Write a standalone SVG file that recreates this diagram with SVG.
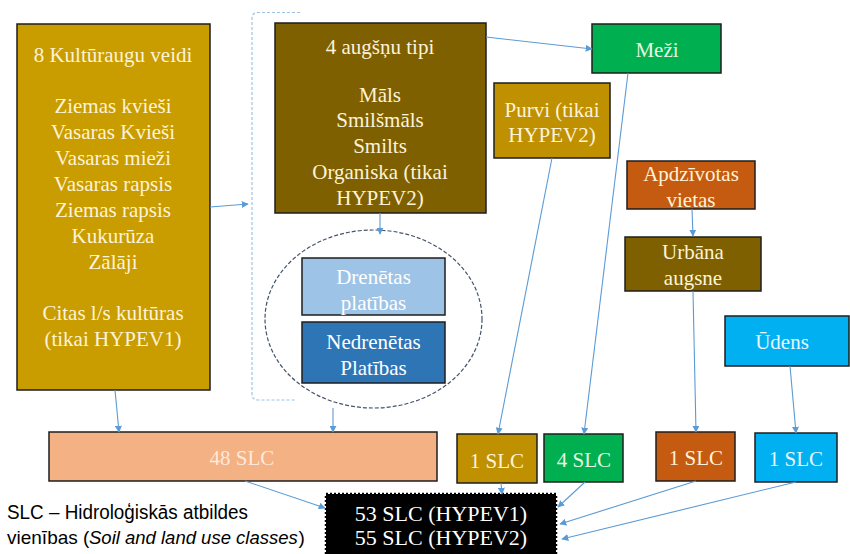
<svg xmlns="http://www.w3.org/2000/svg" width="850" height="554" viewBox="0 0 850 554">
<defs>
<marker id="ah" viewBox="0 0 10 10" refX="9" refY="5" markerWidth="7" markerHeight="7" orient="auto" markerUnits="userSpaceOnUse">
<path d="M0,0 L10,5 L0,10 z" fill="#5b9bd5"/>
</marker>
</defs>
<style>
.box{stroke:#1e1e1e;stroke-width:1.5}
.t{font-family:'Liberation Serif','DejaVu Serif',serif;font-size:21px;text-anchor:middle;fill:#fdf3d8}
.w{fill:#ffffff}
.c{stroke:#5b9bd5;stroke-width:1.1;fill:none;marker-end:url(#ah)}
.leg{font-family:'Liberation Sans',Arial,sans-serif;font-size:19px;fill:#000}
</style>
<rect width="850" height="554" fill="#ffffff"/>

<g id="bracket">
<path d="M300,12.5 H258 Q252,12.5 252,18.5 V394 Q252,400 258,400 H296" fill="none" stroke="#9dc3e6" stroke-width="1.2" stroke-dasharray="3 2"/>
</g>

<g id="crops">
<rect class="box" x="17" y="24" width="193" height="366" fill="#c99c00"/>
<text class="t" x="113" y="62">8 Kultūraugu  veidi</text>
<text class="t" x="113" y="113">Ziemas kvieši</text>
<text class="t" x="113" y="139">Vasaras Kvieši</text>
<text class="t" x="113" y="165">Vasaras mieži</text>
<text class="t" x="113" y="191">Vasaras rapsis</text>
<text class="t" x="113" y="217">Ziemas rapsis</text>
<text class="t" x="113" y="243">Kukurūza</text>
<text class="t" x="113" y="269">Zālāji</text>
<text class="t" x="113" y="320">Citas l/s kultūras</text>
<text class="t" x="113" y="346">(tikai HYPEV1)</text>
</g>

<g id="soils">
<rect class="box" x="275" y="23" width="211" height="190" fill="#7f6000"/>
<text class="t" x="380" y="54">4 augšņu tipi</text>
<text class="t" x="380" y="102">Māls</text>
<text class="t" x="380" y="127">Smilšmāls</text>
<text class="t" x="380" y="153">Smilts</text>
<text class="t" x="380" y="179">Organiska (tikai</text>
<text class="t" x="380" y="205">HYPEV2)</text>
</g>

<g id="drainage">
<ellipse cx="373.5" cy="319" rx="108.5" ry="89" fill="none" stroke="#44546a" stroke-width="1.2" stroke-dasharray="4 2"/>
</g>

<g id="drained">
<rect class="box" x="302" y="258" width="143" height="57" fill="#9dc3e6"/>
<text class="t w" x="373.5" y="284">Drenētas</text>
<text class="t w" x="373.5" y="310">platības</text>
</g>

<g id="undrained">
<rect class="box" x="302" y="322" width="143" height="61" fill="#2e75b6"/>
<text class="t w" x="373.5" y="349">Nedrenētas</text>
<text class="t w" x="373.5" y="375">Platības</text>
</g>

<g id="forest">
<rect class="box" x="592" y="24" width="129" height="49" fill="#00b050"/>
<text class="t" x="657" y="57" style="fill:#e8f5e0">Meži</text>
</g>

<g id="bogs">
<rect class="box" x="494" y="83" width="116" height="75" fill="#bf9000"/>
<text class="t" x="552" y="117">Purvi (tikai</text>
<text class="t" x="552" y="142">HYPEV2)</text>
</g>

<g id="settlements">
<rect class="box" x="627" y="161" width="128" height="48" fill="#c55a11"/>
<text class="t" x="691" y="181">Apdzīvotas</text>
<text class="t" x="691" y="207">vietas</text>
</g>

<g id="urban">
<rect class="box" x="625" y="237" width="136" height="54" fill="#7f6000"/>
<text class="t" x="693" y="259">Urbāna</text>
<text class="t" x="693" y="285">augsne</text>
</g>

<g id="water">
<rect class="box" x="725" y="316" width="124" height="50" fill="#00b0f0"/>
<text class="t" x="782" y="349" style="fill:#e6f6fd">Ūdens</text>
</g>

<g id="slc48">
<rect class="box" x="49" y="432" width="388" height="49" fill="#f4b183"/>
<text class="t" x="242" y="465" style="fill:#fde9dc">48 SLC</text>
</g>

<g id="slc-bogs">
<rect class="box" x="457" y="434" width="80" height="49" fill="#bf9000"/>
<text class="t" x="497" y="468">1 SLC</text>
</g>

<g id="slc-forest">
<rect class="box" x="544" y="434" width="79" height="48" fill="#00b050"/>
<text class="t" x="584" y="467" style="fill:#e8f5e0">4 SLC</text>
</g>

<g id="slc-urban">
<rect class="box" x="656" y="432" width="79" height="49" fill="#c55a11"/>
<text class="t" x="696" y="465">1 SLC</text>
</g>

<g id="slc-water">
<rect class="box" x="755" y="433" width="82" height="49" fill="#00b0f0"/>
<text class="t" x="796" y="466" style="fill:#e6f6fd">1 SLC</text>
</g>

<g id="total">
<rect x="326" y="494" width="230" height="62" fill="#000000" stroke="#000000" stroke-width="2.5" stroke-dasharray="2 2"/>
<text class="t w" x="441" y="521" style="font-size:22px">53 SLC (HYPEV1)</text>
<text class="t w" x="441" y="545" style="font-size:22px">55 SLC (HYPEV2)</text>
</g>

<g id="legend">
<text class="leg" x="7" y="519" style="font-size:20px" textLength="241" lengthAdjust="spacingAndGlyphs">SLC – Hidroloģiskās atbildes</text>
<text class="leg" x="7" y="544">vienības (</text>
<text class="leg" x="89" y="544" style="font-size:18.5px;font-style:italic">Soil and land use classes</text>
<text class="leg" x="298.5" y="544">)</text>
</g>

<g id="connectors">
<line class="c" x1="210" y1="207" x2="248" y2="204"/>
<line class="c" x1="486" y1="37" x2="592" y2="49"/>
<line class="c" x1="380" y1="213" x2="380" y2="234"/>
<line class="c" x1="692" y1="209" x2="693" y2="236"/>
<line class="c" x1="115" y1="390" x2="119" y2="432"/>
<line class="c" x1="333" y1="408" x2="333" y2="432"/>
<line class="c" x1="552" y1="158" x2="498" y2="434"/>
<line class="c" x1="628" y1="73" x2="584" y2="434"/>
<line class="c" x1="693" y1="291" x2="696" y2="432"/>
<line class="c" x1="790" y1="366" x2="796" y2="433"/>
<line class="c" x1="245" y1="481" x2="325" y2="508"/>
<line class="c" x1="501" y1="483" x2="502" y2="494"/>
<line class="c" x1="585" y1="482" x2="558" y2="507"/>
<line class="c" x1="696" y1="481" x2="560" y2="524"/>
<line class="c" x1="796" y1="482" x2="562" y2="539"/>
</g>
</svg>
